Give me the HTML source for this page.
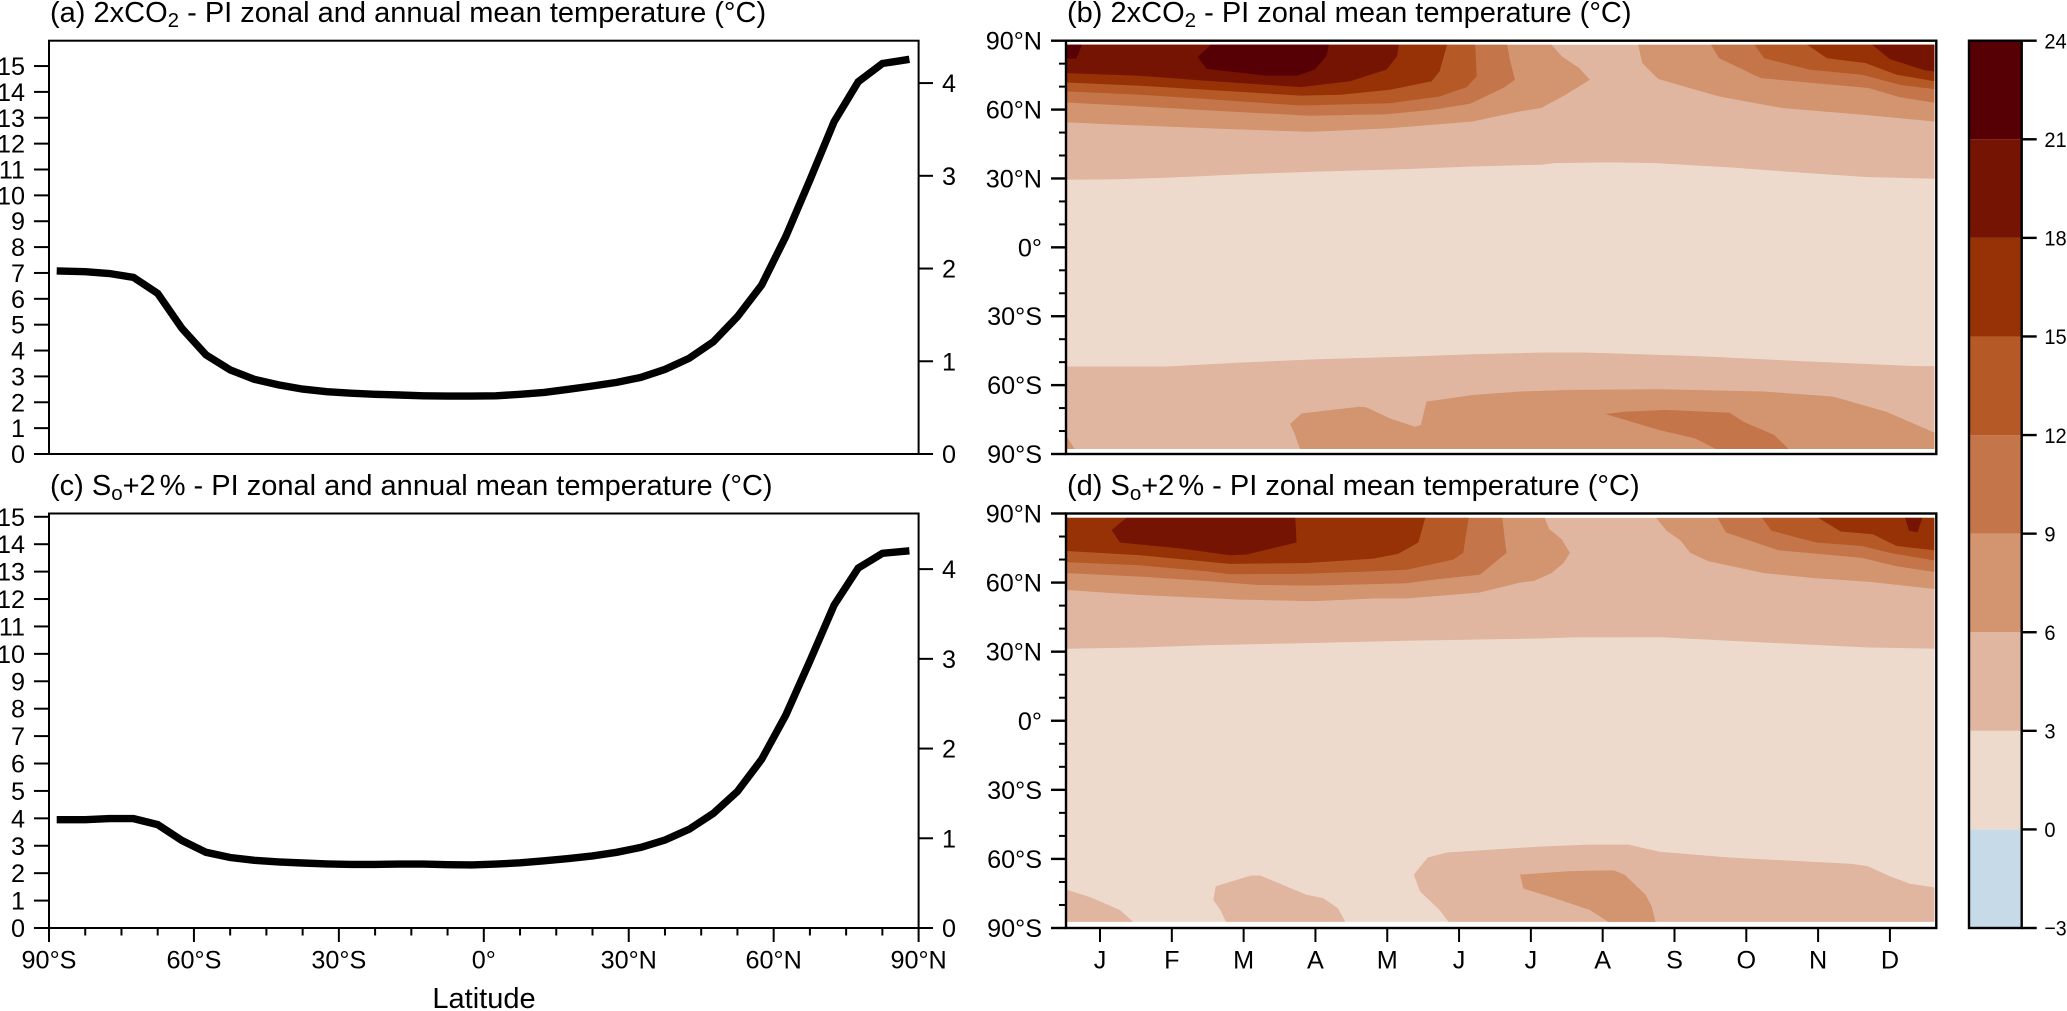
<!DOCTYPE html>
<html lang="en">
<head>
<meta charset="utf-8">
<title>Temperature response panels</title>
<style>
html,body{margin:0;padding:0;background:#fff;width:2067px;height:1011px;overflow:hidden}
svg{display:block}
text{font-family:"Liberation Sans",Arial,sans-serif;fill:#000}
.title{font-size:29px}
.tick{font-size:25.2px}
.cbar-tick{font-size:21.5px}
</style>
</head>
<body>
<svg id="chart" xmlns="http://www.w3.org/2000/svg" width="2067" height="1011" viewBox="0 0 2067 1011">
<rect x="0" y="0" width="2067" height="1011" fill="#fff"/>
<defs>
<clipPath id="clip-b"><rect x="1067" y="44.7" width="867.5" height="404.3"/></clipPath>
<clipPath id="clip-d"><rect x="1067" y="517.9" width="867.5" height="404"/></clipPath>
</defs>
<text class="title" x="50" y="22">(a) 2xCO<tspan font-size="20.5" dy="5">2</tspan><tspan dy="-5"> - PI zonal and annual mean temperature (°C)</tspan></text>
<text class="title" x="1067" y="22">(b) 2xCO<tspan font-size="20.5" dy="5">2</tspan><tspan dy="-5"> - PI zonal mean temperature (°C)</tspan></text>
<text class="title" x="50" y="495">(c) S<tspan font-size="20.5" dy="5">o</tspan><tspan dy="-5">+2</tspan><tspan dx="4">%</tspan> - PI zonal and annual mean temperature (°C)</text>
<text class="title" x="1067" y="495">(d) S<tspan font-size="20.5" dy="5">o</tspan><tspan dy="-5">+2</tspan><tspan dx="4">%</tspan> - PI zonal mean temperature (°C)</text>
<text x="484" y="1008" font-size="29" text-anchor="middle">Latitude</text>
<g id="layer"></g>
</svg>
<script>
// ---------- line chart data ----------
const lineLatitudes = [-88.4,-82.5,-77.5,-72.5,-67.5,-62.5,-57.5,-52.5,-47.5,-42.5,-37.5,-32.5,-27.5,-22.5,-17.5,-12.5,-7.5,-2.5,2.5,7.5,12.5,17.5,22.5,27.5,32.5,37.5,42.5,47.5,52.5,57.5,62.5,67.5,72.5,77.5,82.5,88.1];
const tempCO2 = [7.08,7.05,6.98,6.83,6.21,4.86,3.83,3.25,2.89,2.67,2.51,2.41,2.35,2.31,2.28,2.25,2.24,2.24,2.25,2.31,2.38,2.50,2.63,2.77,2.96,3.27,3.70,4.34,5.31,6.53,8.40,10.59,12.85,14.39,15.10,15.26];
const tempSolar = [3.95,3.95,3.99,3.99,3.77,3.19,2.76,2.57,2.47,2.41,2.37,2.34,2.32,2.32,2.33,2.33,2.31,2.30,2.33,2.38,2.45,2.53,2.63,2.76,2.94,3.21,3.60,4.18,4.98,6.15,7.76,9.74,11.78,13.13,13.67,13.76];
const leftTicks = [0,1,2,3,4,5,6,7,8,9,10,11,12,13,14,15];
const rightTicks = [0,1,2,3,4];
const latMajorTicks = [-90,-60,-30,0,30,60,90];
const latMajorLabels = ['90°S','60°S','30°S','0°','30°N','60°N','90°N'];
const latMinorTicksX = [-82.5,-75,-67.5,-52.5,-45,-37.5,-22.5,-15,-7.5,7.5,15,22.5,37.5,45,52.5,67.5,75,82.5];
const latMinorTicksY = [80,70,50,40,20,10,-10,-20,-40,-50,-70,-80];
const monthDays = [13.7,43.5,73.3,103.1,132.9,162.7,192.5,222.3,252.1,281.9,311.7,341.5];
const monthLabels = ['J','F','M','A','M','J','J','A','S','O','N','D'];

// ---------- colour bar data ----------
const cbarLevels = [-3,0,3,6,9,12,15,18,21,24];
const cbarLabels = ['−3','0','3','6','9','12','15','18','21','24'];
const cbarColors = ['#c6dbe7','#eedacd','#e1b6a0','#d2956f','#c4764a','#b55926','#963205','#751403','#560006'];

// ---------- contour boundaries, [day of year, latitude] ----------
const b3N = [[0,29.4],[22,29.7],[44,30.4],[76.3,32],[103.7,33],[140.9,34.1],[168.3,35.2],[197.1,36],[202.2,36.7],[223.7,37],[244.2,36.7],[275,34.8],[303.6,32.6],[332.3,30.6],[360,29.9],[360,90],[0,90]];
const b3S = [[0,-51.9],[41.1,-51.9],[71.4,-50.2],[103.7,-48.7],[140.9,-47.6],[168.3,-46.6],[197.1,-45.8],[214.5,-45.8],[260.6,-47.3],[303.6,-49.5],[332.3,-50.8],[351.8,-51.7],[360,-51.7],[360,-90],[0,-90]];
const b6NW = [[0,54.4],[22,53.4],[65,51.6],[100.8,50.3],[134,51.9],[168.3,54.8],[187.9,59.2],[196.8,60.7],[206.9,66.5],[217,73],[212.5,78.1],[205.3,83.2],[201,88.4],[201,90],[0,90]];
const b6NE = [[237,90],[237,88.4],[238.7,80.3],[245.3,73.3],[270.6,65.7],[296.5,60.7],[332.7,57.5],[360,54.8],[360,90]];
const b6S = [[92.6,-76.9],[97.4,-72.3],[121.3,-69.4],[124.3,-69.7],[134,-74.5],[144.4,-78.1],[146.8,-77.4],[149.2,-67.2],[168.3,-64.3],[187.9,-62.8],[209.4,-62.1],[246.3,-61.8],[289.3,-62.8],[318,-65],[340,-71.6],[360,-80.7],[360,-90],[97.4,-90],[94.6,-81.7]];
const b6Corner = [[0,-82.5],[4.4,-90],[0,-90]];
const b9S = [[223.4,-72.6],[231.4,-71.6],[248.3,-70.8],[275,-72],[280.6,-75.9],[293.4,-81.7],[300.2,-88.5],[270.6,-88.5],[260.6,-83.2],[245.9,-79.6]];
const b9NW = [[0,63.1],[30.3,61.4],[66.3,59.2],[100.8,57.3],[132.6,58],[151.7,59.9],[167.3,62.5],[181,69.4],[185.9,73],[183.8,81.7],[182.4,90],[0,90]];
const b9NE = [[266.2,90],[270.6,82.4],[287.9,73.7],[310.8,71.5],[332.7,69.4],[345.6,65.4],[360,63],[360,90]];
const b12NW = [[0,67.9],[30.3,66.5],[57.7,64.6],[96.9,61.8],[134,62.8],[154.6,65.7],[165.9,69.8],[170,74.5],[169.3,90],[0,90]];
const b12NE = [[284.2,90],[289.3,82.4],[308.1,77.4],[329.9,75.2],[345.6,70.8],[360,68.9],[360,90]];
const b15NW = [[0,71.8],[30.3,70.4],[57.7,68.6],[96.9,66.1],[113.5,66.5],[134,68.6],[151.3,72.3],[154.6,76.6],[158.2,90],[0,90]];
const b15NE = [[304.7,90],[315.4,82.4],[331.3,80.3],[344.3,75.2],[360,72.3],[360,90]];
const b18NW = [[0,75.9],[30.3,74.7],[57.7,72.6],[96.9,69.8],[117.4,72.3],[132.6,77.4],[137,83.2],[138,90],[0,90]];
const b18NE = [[332,90],[341.5,82],[355.9,77.1],[360,76.6],[360,90]];
const b21Corner = [[0,82.2],[3.9,82.2],[6.9,90],[0,90]];
const b21Core = [[54.2,82.9],[61.5,90],[109.1,90],[107.6,83.2],[102.8,77.4],[95.3,74.7],[82.9,74.7],[57.9,77.7]];

const d3N = [[0,31.3],[30.3,31.8],[57.7,32.8],[99.8,33.7],[140.9,34.7],[197.1,35.7],[209.4,36.2],[246.3,36.3],[289.3,34],[332.3,31.8],[360,31.3],[360,90],[0,90]];
const d3SMain = [[143.9,-66.8],[149.7,-59.4],[157.6,-57.2],[196.7,-54.6],[216.6,-53.8],[233,-53.8],[245.9,-56.9],[275,-59.4],[325.2,-62.1],[332.3,-63.1],[341.5,-67.5],[349.7,-70.7],[360,-72.4],[360,-90],[160.3,-90],[154.6,-82.2],[146.5,-74.1]];
const d3SMid = [[60.7,-77.8],[61.7,-71.9],[76.3,-67.2],[80.2,-67.2],[99.4,-75.6],[106.4,-77.1],[112.5,-81.5],[115.5,-87.4],[115.5,-90],[66,-90],[66,-87.4],[63.6,-82.2]];
const d3SCorner = [[0,-73.4],[9.6,-76.6],[22,-82.2],[27.5,-87.4],[27.5,-90],[0,-90]];
const d6S = [[188,-66.8],[208.4,-65.3],[226.8,-64.9],[231.4,-66.8],[240.1,-75.6],[242.7,-80.7],[244.4,-88],[225.6,-88],[217,-82.2],[202.4,-77.1],[189.4,-72.9]];
const d6NW = [[0,56.8],[30.3,54.6],[71.8,52.6],[101.5,51.9],[127.2,53.1],[140.9,53.1],[171.3,55.7],[187.9,60],[193.7,60.7],[201,64.1],[206.1,68.5],[208.7,72.9],[205.3,78.8],[200.2,83.2],[197.4,90],[0,90]];
const d6NE = [[243,90],[248.8,82.5],[254.5,78.4],[258.6,72.9],[266.2,69.3],[289.3,64.1],[310.8,61.9],[332.7,60.4],[360,57.2],[360,90]];
const d9NW = [[0,64.1],[30.3,62.6],[57.7,60.7],[78.3,59],[102.3,58.7],[140.9,59.7],[151.7,61.2],[171.3,63.4],[182.4,72.9],[181.7,78.8],[180.4,90],[0,90]];
const d9NE = [[269,90],[273.4,81.8],[295.1,74],[329.9,70.7],[344.3,67.1],[360,64.6],[360,90]];
const d12NW = [[0,68.8],[30.3,67.5],[57.7,64.9],[67.5,63.7],[99.4,63.8],[127.2,64.9],[140.9,65.6],[160.3,70],[164.4,72.9],[167,90],[0,90]];
const d12NE = [[287.2,90],[292.3,82.5],[310.8,77.4],[329.9,75.9],[341.5,72.9],[360,69.6],[360,90]];
const d15NW = [[0,73.7],[30.3,71.9],[67.5,68.1],[99.4,68.5],[127.2,70.4],[137.5,72.5],[145.8,77.4],[149.2,90],[0,90]];
const d15NE = [[308.8,90],[321.1,82.2],[334.4,81],[344.3,75.9],[360,74],[360,90]];
const d18Core = [[18.5,82.8],[26.8,90],[94.6,90],[95.3,77.4],[74.6,72.2],[67.5,71.9],[48.2,74.7],[22,77.4]];
const d18Blob = [[347.3,90],[349.4,82.5],[353,81.8],[355.5,90]];

const panelBLevels = [3,3,6,6,6,6,9,9,9,12,12,15,15,18,18,21,21];
const panelBShapes = [b3N,b3S,b6NW,b6NE,b6S,b6Corner,b9S,b9NW,b9NE,b12NW,b12NE,b15NW,b15NE,b18NW,b18NE,b21Corner,b21Core];
const panelDLevels = [3,3,3,3,6,6,6,9,9,12,12,15,15,18,18];
const panelDShapes = [d3N,d3SMain,d3SMid,d3SCorner,d6S,d6NW,d6NE,d9NW,d9NE,d12NW,d12NE,d15NW,d15NE,d18Core,d18Blob];

// ---------- axis functions ----------
const xLat = lat => 49 + (lat + 90) * (918.6 - 49) / 180;
const yALeft = v => 454 - v * (454 - 40.7) / 15.98;
const yARight = v => 454 - v * (454 - 40.7) / 4.457;
const yCLeft = v => 928 - v * (928 - 513.5) / 15.12;
const yCRight = v => 928 - v * (928 - 513.5) / 4.62;
const xDay = d => 1067 + d * (1934.5 - 1067) / 360;
const yLatB = lat => 40.7 + (90 - lat) * (454 - 40.7) / 180;
const yLatD = lat => 513.5 + (90 - lat) * (928 - 513.5) / 180;
const yCbar = v => 928 - (v + 3) * (928 - 40.7) / 27;

// ---------- drawing helpers ----------
const NS = 'http://www.w3.org/2000/svg';
const layer = document.getElementById('layer');
function make(tag, props, parent) {
  const el = document.createElementNS(NS, tag);
  for (const k in props) el.setAttribute(k, props[k]);
  (parent || layer).appendChild(el);
  return el;
}
function tickLine(x1, y1, x2, y2, width) {
  const el = make('line', {x1, y1, x2, y2, stroke: '#000', 'stroke-width': width || 2});
  
  
  return el;
}
function tickText(x, y, str, anchor, cls) {
  const el = make('text', {x, y, 'text-anchor': anchor, class: cls || 'tick'});
  el.textContent = str;
  
  
  return el;
}
function frame(x1, y1, x2, y2, width, name) {
  const el = make('rect', {x: x1, y: y1, width: x2 - x1, height: y2 - y1, fill: 'none', stroke: '#000', 'stroke-width': width});
  
  
}
const LABEL_DY = 9;
const CBAR_LABEL_DY = 7.7;

// ---------- line panels ----------
function drawLinePanel(values, yL, yR, top, bottom, seriesName, frameName) {
  const pts = lineLatitudes.map((lat, i) => xLat(lat).toFixed(1) + ',' + yL(values[i]).toFixed(1)).join(' ');
  const line = make('polyline', {points: pts, fill: 'none', stroke: '#000', 'stroke-width': 7.4, 'stroke-linejoin': 'miter', 'stroke-linecap': 'butt'});
  
  
  frame(xLat(-90), top, xLat(90), bottom, 2, frameName);
  leftTicks.forEach(v => {
    tickLine(34, yL(v), xLat(-90), yL(v));
    tickText(25, yL(v) + LABEL_DY, String(v), 'end');
  });
  rightTicks.forEach(v => {
    tickLine(xLat(90), yR(v), 933, yR(v));
    tickText(942, yR(v) + LABEL_DY, String(v), 'start');
  });
}
drawLinePanel(tempCO2, yALeft, yARight, 40.7, 454, 'co2-temperature-line', 'panel-a-frame');
drawLinePanel(tempSolar, yCLeft, yCRight, 513.5, 928, 'solar-temperature-line', 'panel-c-frame');

latMajorTicks.forEach((lat, i) => {
  tickLine(xLat(lat), 928, xLat(lat), 942);
  tickText(xLat(lat), 968.7, latMajorLabels[i], 'middle');
});
latMinorTicksX.forEach(lat => {
  tickLine(xLat(lat), 928, xLat(lat), 935.5);
});

// ---------- contour panels ----------
function drawContourPanel(levels, shapes, yLat, clipId, top, bottom, clipTop, clipHeight, frameName) {
  const g = make('g', {'clip-path': 'url(#' + clipId + ')'});
  
  
  const base = make('rect', {x: 1067, y: clipTop, width: 867.5, height: clipHeight, fill: cbarColors[1]}, g);
  
  
  shapes.forEach((shape, i) => {
    const pts = shape.map(p => xDay(p[0]).toFixed(1) + ',' + yLat(p[1]).toFixed(1)).join(' ');
    const color = cbarColors[cbarLevels.indexOf(levels[i])];
    const poly = make('polygon', {points: pts, fill: color}, g);
    
    
  });
  frame(1066, top, 1936.3, bottom, 2.4, frameName);
  latMajorTicks.forEach((lat, i) => {
    tickLine(1051, yLat(lat), 1066, yLat(lat), 2.4);
    tickText(1042, yLat(lat) + LABEL_DY, latMajorLabels[i], 'end');
  });
  latMinorTicksY.forEach(lat => {
    tickLine(1059, yLat(lat), 1066, yLat(lat));
  });
}
drawContourPanel(panelBLevels, panelBShapes, yLatB, 'clip-b', 40.7, 454, 44.7, 404.3, 'panel-b-frame');
drawContourPanel(panelDLevels, panelDShapes, yLatD, 'clip-d', 513.5, 928, 517.9, 404, 'panel-d-frame');

monthDays.forEach((d, i) => {
  tickLine(xDay(d), 928, xDay(d), 942);
  tickText(xDay(d), 968.7, monthLabels[i], 'middle');
});

// ---------- colour bar ----------
cbarColors.forEach((c, i) => {
  const seg = make('rect', {x: 1969, y: yCbar(cbarLevels[i + 1]), width: 52.7, height: yCbar(cbarLevels[i]) - yCbar(cbarLevels[i + 1]), fill: c});
  
  
});
frame(1969, 40.7, 2021.7, 928, 2.4, 'colorbar-frame');
cbarLevels.forEach((v, i) => {
  tickLine(2021.7, yCbar(v), 2036.7, yCbar(v), 2.4);
  const label = tickText(2044.4, yCbar(v) + CBAR_LABEL_DY, cbarLabels[i], 'start', 'cbar-tick');
  label.setAttribute('textLength', cbarLabels[i].length * 11.15);
  label.setAttribute('lengthAdjust', 'spacingAndGlyphs');
});
</script>
</body>
</html>
